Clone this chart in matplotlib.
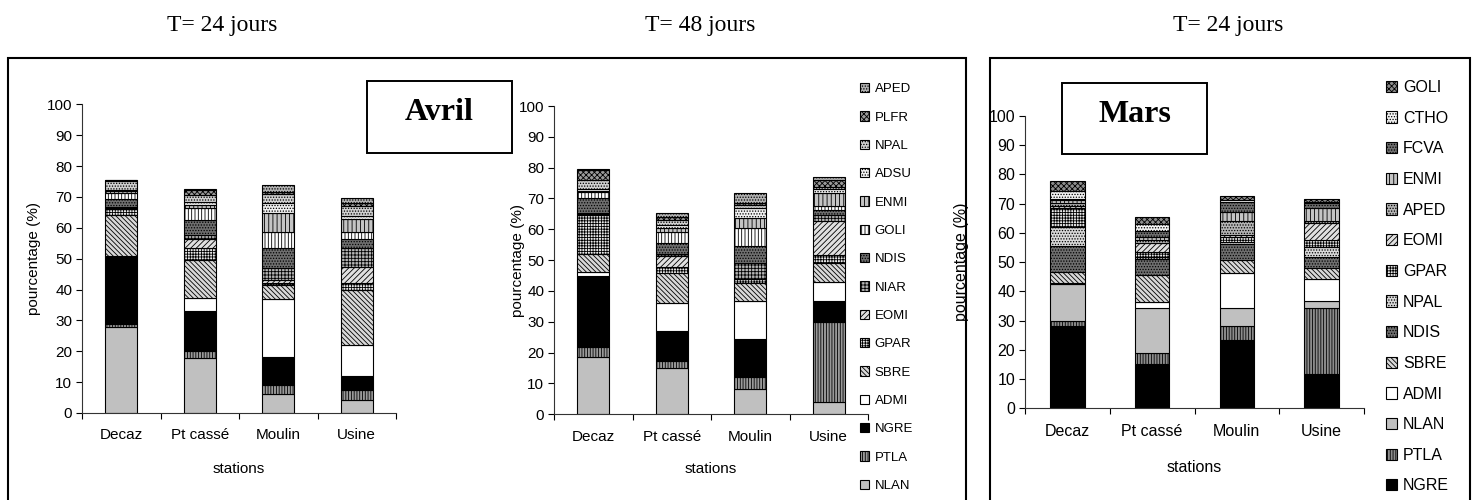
"""Stacked percentage bars of species per station, April (T=24, T=48) and March (T=24)."""

import matplotlib

matplotlib.use("Agg")
import matplotlib.pyplot as plt
import numpy as np
from matplotlib.patches import Rectangle

plt.rcParams["font.family"] = ["Liberation Sans", "DejaVu Sans"]
plt.rcParams["hatch.linewidth"] = 0.6

STATIONS = ["Decaz", "Pt cassé", "Moulin", "Usine"]

# species listed from the bottom of the stack to the top
AVRIL_SPECIES = ["NLAN", "PTLA", "NGRE", "ADMI", "SBRE", "GPAR", "EOMI", "NIAR",
                 "NDIS", "GOLI", "ENMI", "ADSU", "NPAL", "PLFR", "APED"]
MARS_SPECIES = ["NGRE", "PTLA", "NLAN", "ADMI", "SBRE", "NDIS", "NPAL", "GPAR",
                "EOMI", "APED", "ENMI", "FCVA", "CTHO", "GOLI"]

# one row per station, one column per species (same order as above)
AVRIL_T24 = [
    [28.0, 0.8, 22.0, 0.2, 13.0, 2.0, 0.4, 0.3, 2.7, 2.0, 0.5, 0.4, 2.7, 0.4, 0.2],
    [17.7, 2.4, 13.0, 4.0, 12.4, 3.8, 3.2, 1.1, 4.9, 3.9, 1.1, 0.7, 2.4, 1.6, 0.5],
    [6.1, 3.0, 8.9, 18.8, 4.6, 0.6, 1.0, 4.0, 6.3, 5.4, 6.1, 3.3, 3.0, 0.5, 2.2],
    [4.2, 3.2, 4.6, 10.0, 18.0, 2.2, 5.1, 6.3, 2.9, 2.2, 4.1, 1.0, 3.3, 0.8, 1.8],
]
AVRIL_T48 = [
    [18.5, 3.2, 23.3, 1.1, 5.9, 12.6, 0.3, 0.3, 4.9, 2.1, 0.3, 0.5, 3.0, 3.4, 0.3],
    [14.9, 2.5, 9.6, 9.0, 9.7, 2.0, 3.6, 0.7, 3.5, 3.5, 1.3, 1.0, 1.7, 0.9, 1.3],
    [8.3, 3.7, 12.4, 12.5, 5.8, 1.1, 0.2, 5.2, 5.4, 5.7, 3.3, 3.2, 1.1, 0.7, 3.1],
    [3.9, 26.1, 6.7, 6.1, 6.4, 2.5, 11.0, 1.9, 1.7, 1.4, 4.0, 1.3, 0.8, 2.2, 1.1],
]
MARS_T24 = [
    [28.3, 1.6, 12.5, 0.4, 4.0, 8.8, 6.5, 6.3, 0.9, 1.1, 0.9, 0.3, 2.9, 3.4],
    [15.2, 3.6, 15.4, 2.1, 9.3, 5.5, 0.8, 1.7, 3.1, 0.9, 1.1, 2.1, 2.1, 2.4],
    [23.4, 4.8, 6.0, 12.0, 4.5, 5.5, 0.8, 1.5, 0.8, 4.7, 3.3, 3.4, 0.6, 1.3],
    [11.7, 22.5, 2.6, 7.3, 3.8, 4.0, 3.2, 2.5, 5.7, 0.9, 4.2, 1.7, 0.6, 0.8],
]

# (face colour, hatch) imitating the Excel fill patterns
AVRIL_STYLE = {
    "NLAN": ("#c0c0c0", ""),
    "PTLA": ("#9a9a9a", "||||||"),
    "NGRE": ("#000000", ""),
    "ADMI": ("#ffffff", ""),
    "SBRE": ("#d8d8d8", "\\\\\\\\\\\\\\"),
    "GPAR": ("#e8e8e8", "++++++"),
    "EOMI": ("#e0e0e0", "//////"),
    "NIAR": ("#b4b4b4", "+++++"),
    "NDIS": ("#6e6e6e", "......"),
    "GOLI": ("#ffffff", "|||||"),
    "ENMI": ("#c4c4c4", "||||"),
    "ADSU": ("#f0f0f0", "......"),
    "NPAL": ("#d0d0d0", "......"),
    "PLFR": ("#9a9a9a", "xxxxxx"),
    "APED": ("#b0b0b0", "......"),
}
MARS_STYLE = {
    "NGRE": ("#000000", ""),
    "PTLA": ("#8c8c8c", "||||||"),
    "NLAN": ("#c0c0c0", ""),
    "ADMI": ("#ffffff", ""),
    "SBRE": ("#d8d8d8", "\\\\\\\\\\\\\\"),
    "NDIS": ("#6e6e6e", "......"),
    "NPAL": ("#d8d8d8", "......"),
    "GPAR": ("#e8e8e8", "++++++"),
    "EOMI": ("#e0e0e0", "//////"),
    "APED": ("#b4b4b4", "......"),
    "ENMI": ("#c4c4c4", "||||"),
    "FCVA": ("#6e6e6e", "......"),
    "CTHO": ("#f2f2f2", "......"),
    "GOLI": ("#8c8c8c", "xxxxxx"),
}

W, H = 1477, 500


def fig_rect(x0, y0, x1, y1):
    """Pixel box (top-left origin) -> figure fraction [left, bottom, width, height]."""
    return [x0 / W, 1 - y1 / H, (x1 - x0) / W, (y1 - y0) / H]


def stacked_panel(fig, box, species, table, styles, fs, ylabel_x, xlabel_y):
    ax = fig.add_axes(fig_rect(*box))
    table = np.array(table)
    x = np.arange(len(STATIONS))
    bottom = np.zeros(len(STATIONS))
    handles = []
    for j, name in enumerate(species):
        face, hatch = styles[name]
        bars = ax.bar(x, table[:, j], 0.41, bottom=bottom, color=face, hatch=hatch,
                      edgecolor="black", linewidth=0.8, label=name)
        bottom += table[:, j]
        handles.append(bars)

    ax.set_xlim(-0.5, 3.5)
    ax.set_ylim(0, 100)
    ax.set_yticks(range(0, 101, 10))
    ax.set_xticks(x, STATIONS)
    ax.set_xticks(np.arange(-0.5, 4.0, 1.0), minor=True)
    ax.tick_params(axis="y", length=4, width=0.8, pad=3, labelsize=fs)
    ax.tick_params(axis="x", which="major", length=0, pad=11, labelsize=fs)
    ax.tick_params(axis="x", which="minor", length=4, width=0.8)
    for side in ("top", "right"):
        ax.spines[side].set_visible(False)
    for side in ("left", "bottom"):
        ax.spines[side].set_linewidth(0.8)
        ax.spines[side].set_color("#333333")

    ax.set_ylabel("pourcentage (%)", fontsize=fs, va="center")
    ax.yaxis.set_label_coords(ylabel_x, 0.5)
    ax.set_xlabel("stations", fontsize=fs, va="center")
    ax.xaxis.set_label_coords(0.5, xlabel_y)
    ax.set_facecolor("none")
    return ax, handles


def frame(fig, x0, y0, x1, y1, lw=1.5):
    fig.add_artist(Rectangle((x0 / W, 1 - y1 / H), (x1 - x0) / W, (y1 - y0) / H,
                             transform=fig.transFigure, fill=False,
                             edgecolor="black", linewidth=lw, clip_on=False))


def main():
    fig = plt.figure(figsize=(W / 100, H / 100), dpi=100)

    # outer frames and month boxes
    frame(fig, 8, 58, 966, 520)
    frame(fig, 990, 58, 1470, 520)
    frame(fig, 367, 81, 512, 153, lw=1.4)
    frame(fig, 1062, 83, 1207, 154, lw=1.4)

    serif = ["Liberation Serif", "DejaVu Serif"]
    for xc, title in [(222, "T= 24 jours"), (700, "T= 48 jours"), (1228, "T= 24 jours")]:
        fig.text(xc / W, 1 - 26 / H, title, family=serif, fontsize=17,
                 ha="center", va="center")
    fig.text(439 / W, 1 - 112 / H, "Avril", family=serif, fontsize=23,
             fontweight="bold", ha="center", va="center")
    fig.text(1135 / W, 1 - 114 / H, "Mars", family=serif, fontsize=23,
             fontweight="bold", ha="center", va="center")

    stacked_panel(fig, (82, 104.3, 396, 413), AVRIL_SPECIES, AVRIL_T24,
                  AVRIL_STYLE, 11, -0.153, -0.181)
    ax_mid, handles = stacked_panel(fig, (554, 106, 868, 414.3), AVRIL_SPECIES,
                                    AVRIL_T48, AVRIL_STYLE, 11, -0.115, -0.177)
    ax_mars, mars_handles = stacked_panel(fig, (1025, 116, 1364, 408.3), MARS_SPECIES,
                                          MARS_T24, MARS_STYLE, 11.5, -0.186, -0.201)

    ax_mid.legend(handles[::-1], AVRIL_SPECIES[::-1], loc="upper left",
                  bbox_to_anchor=(860 / W, 1 - 83 / H), bbox_transform=fig.transFigure,
                  frameon=False, fontsize=9.5, handlelength=0.7, handleheight=0.7,
                  handletextpad=0.4, labelspacing=1.22, borderpad=0, borderaxespad=0)
    ax_mars.legend(mars_handles[::-1], MARS_SPECIES[::-1], loc="upper left",
                   bbox_to_anchor=(1386 / W, 1 - 80 / H), bbox_transform=fig.transFigure,
                   frameon=False, fontsize=11.5, handlelength=0.7, handleheight=0.7,
                   handletextpad=0.35, labelspacing=0.98, borderpad=0, borderaxespad=0)

    fig.savefig("out.png", dpi=100)
    plt.close(fig)


if __name__ == "__main__":
    main()
